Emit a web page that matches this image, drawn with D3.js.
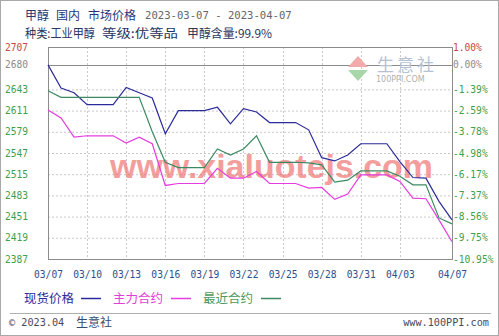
<!DOCTYPE html>
<html><head><meta charset="utf-8">
<script src="https://cdn.jsdelivr.net/npm/d3@7"></script>
<style>
html,body{margin:0;padding:0;background:#fff;}
svg{display:block;}
</style></head>
<body>
<svg id="c" width="499" height="336"></svg>
<script>
// ---- data ----
const startDate = "2023-03-07";
const endDate = "2023-04-07";
const xTickLabels = ["03/07","03/10","03/13","03/16","03/19","03/22","03/25","03/28","03/31","04/03","04/07"];
const yTickValues = [2707,2680,2643,2611,2579,2547,2515,2483,2451,2419,2387];
const yTickLabels = ["2707","2680","2643","2611","2579","2547","2515","2483","2451","2419","2387"];
const pctTickLabels = ["1.00%","0.00%","-1.39%","-2.59%","-3.78%","-4.98%","-6.17%","-7.37%","-8.56%","-9.75%","-10.95%"];
const seriesNames = ["现货价格","主力合约","最近合约"];
const spotPrice = [2680,2645,2638,2620,2620,2620,2646,2638,2630,2576,2611,2611,2611,2616,2591,2614,2609,2593,2593,2593,2582,2540,2535,2544,2561,2561,2561,2534,2510,2509,2474,2446];
const mainContract = [2612,2600,2571,2573,2573,2573,2562,2571,2561,2498,2501,2501,2501,2524,2509,2509,2519,2501,2501,2501,2494,2495,2477,2485,2514,2514,2514,2504,2479,2478,2446,2413];
const nearContract = [2641,2631,2631,2631,2631,2631,2631,2631,2579,2533,2525,2525,2525,2553,2544,2553,2573,2533,2533,2533,2532,2529,2503,2506,2520,2520,2520,2512,2499,2499,2449,2440];
const baseValue = 2680;

const parse = d3.timeParse("%Y-%m-%d");
const dates = d3.timeDay.range(parse(startDate), d3.timeDay.offset(parse(endDate),1));
const tickDates = xTickLabels.map(s => parse("2023-" + s.replace("/","-")));

const svg = d3.select("#c");
const L = 48, R = 452, T = 47, B = 259;
const x = d3.scaleTime().domain([parse(startDate), parse(endDate)]).range([L, R]);
const y = d3.scaleLinear().domain([2387, 2707]).range([B, T]);

const mono = "'DejaVu Sans Mono', 'Liberation Mono', monospace";
const cjk = "'Noto Sans CJK SC', sans-serif";

// outer border
svg.append("rect").attr("x",0.5).attr("y",0.5).attr("width",498).attr("height",335)
  .attr("fill","#fff").attr("stroke","#a8a8a8");

// header
[["甲醇",25],["国内",56],["市场价格",88]].forEach(([t,px])=>{
  svg.append("text").attr("x",px).attr("y",19.5).attr("font-family",cjk).attr("font-size",12)
    .attr("fill","#27387a").text(t);
});
svg.append("text").attr("x",145).attr("y",19).attr("font-family",mono).attr("font-size",10.6)
  .attr("fill","#666").text(startDate + " - " + endDate);
[["种类:工业甲醇",25,70],["等级:优等品",102,76],["甲醇含量:99.9%",187,85]].forEach(([t,px,w])=>{
  svg.append("text").attr("x",px).attr("y",37.5).attr("font-family",cjk).attr("font-size",12)
    .attr("textLength",w).attr("lengthAdjust","spacingAndGlyphs")
    .attr("fill","#2a3560").text(t);
});

// gridlines
const g = svg.append("g");
g.selectAll("line.h").data(yTickValues.filter(v => v !== 2707 && v !== 2387 && v !== baseValue))
  .join("line").attr("x1",L).attr("x2",R).attr("y1",d=>y(d)+0.5).attr("y2",d=>y(d)+0.5)
  .attr("stroke","#c8c8c8").attr("stroke-dasharray","2,2");
g.selectAll("line.v").data(tickDates.slice(1,-1))
  .join("line").attr("x1",d=>Math.round(x(d))+0.5).attr("x2",d=>Math.round(x(d))+0.5).attr("y1",T).attr("y2",B)
  .attr("stroke","#c8c8c8").attr("stroke-dasharray","2,2");
// base line
g.append("line").attr("x1",L).attr("x2",R).attr("y1",Math.round(y(baseValue))+0.5).attr("y2",Math.round(y(baseValue))+0.5)
  .attr("stroke","#8a8a8a");

// watermarks
const logo = svg.append("g");
logo.append("path").attr("d","M348,67 L358,56 L368,67 Z").attr("fill","#f2aaaa");
logo.append("path").attr("d","M348,70 L358,81 L368,70 Z").attr("fill","#a9d6a9");
logo.append("text").attr("x",377).attr("y",71).attr("font-family",cjk).attr("font-size",17)
  .attr("fill","#b4c2d2").attr("letter-spacing",3).text("生意社");
logo.append("text").attr("x",376).attr("y",82).attr("font-family","'DejaVu Sans', sans-serif").attr("font-size",8)
  .attr("fill","#b0b0b0").text("100PPI.COM");
svg.append("text").attr("x",110).attr("y",178).attr("font-family","'Liberation Sans', Arial, sans-serif")
  .attr("font-weight","bold").attr("font-size",33).attr("textLength",323).attr("lengthAdjust","spacingAndGlyphs")
  .attr("fill","#f07070").attr("opacity",0.68).text("www.xialuotejs.com");

// frame
svg.append("rect").attr("x",L+0.5).attr("y",T+0.5).attr("width",R-L).attr("height",B-T)
  .attr("fill","none").attr("stroke","#8c8c8c");

// lines
const line = d3.line().x((d,i)=>x(dates[i])).y(d=>y(d));
const series = [
  {vals: spotPrice, color:"#2b2b9c"},
  {vals: mainContract, color:"#e63ce0"},
  {vals: nearContract, color:"#3d8a62"}
];
svg.append("g").selectAll("path").data(series).join("path")
  .attr("d", d=>line(d.vals)).attr("fill","none").attr("stroke",d=>d.color).attr("stroke-width",1.2);

// axes
const tickColor = (i)=> i===0 ? "#c84848" : (i===1 ? "#8c8c8c" : "#3fa04a");
const la = svg.append("g").attr("transform",`translate(28,0)`)
  .call(d3.axisLeft(y).tickValues(yTickValues).tickSize(0).tickPadding(0).tickFormat((d,i)=>yTickLabels[i]));
la.select(".domain").remove();
la.selectAll("text").attr("font-family",mono).attr("font-size",9.6).attr("fill",(d,i)=>tickColor(i));

const ra = svg.append("g").attr("transform",`translate(${R},0)`)
  .call(d3.axisRight(y).tickValues(yTickValues).tickSize(0).tickPadding(1).tickFormat((d,i)=>pctTickLabels[i]));
ra.select(".domain").remove();
ra.selectAll("text").attr("font-family",mono).attr("font-size",9.6).attr("fill",(d,i)=>tickColor(i));

const xa = svg.append("g").attr("transform",`translate(0,${B})`)
  .call(d3.axisBottom(x).tickValues(tickDates).tickSize(0).tickPadding(12).tickFormat((d,i)=>xTickLabels[i]));
xa.select(".domain").remove();
xa.selectAll("text").attr("font-family",mono).attr("font-size",9.6).attr("fill","#2d4f8c");

// legend
const legendX = [[24,81],[113,171],[203,261]];
const legendTextColor = ["#2b2b9c","#e43cd8","#4a9a5e"];
seriesNames.forEach((n,i)=>{
  svg.append("text").attr("x",legendX[i][0]).attr("y",302.5).attr("font-family",cjk).attr("font-size",12.5)
    .attr("fill",legendTextColor[i]).text(n);
  svg.append("line").attr("x1",legendX[i][1]).attr("x2",legendX[i][1]+20).attr("y1",298.5).attr("y2",298.5)
    .attr("stroke",series[i].color).attr("stroke-width",1.5);
});

// footer
svg.append("line").attr("x1",10).attr("x2",491).attr("y1",313.5).attr("y2",313.5).attr("stroke","#b0b0b0");
svg.append("text").attr("x",9).attr("y",326).attr("font-family",mono).attr("font-size",10.2).attr("fill","#4a4a5a").text("© 2023.04");
svg.append("text").attr("x",76).attr("y",326.5).attr("font-family",cjk).attr("font-size",12).attr("fill","#3a4a6a").text("生意社");
svg.append("text").attr("x",489).attr("y",326).attr("text-anchor","end").attr("font-family",mono).attr("font-size",10.2).attr("fill","#4a4a5a").text("www.100PPI.com");
</script>
</body></html>
